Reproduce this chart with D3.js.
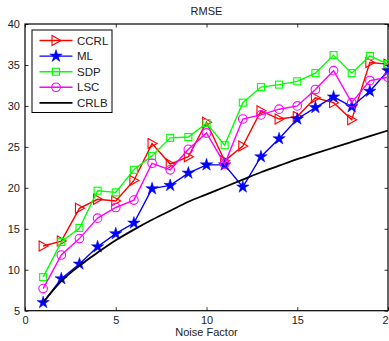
<!DOCTYPE html>
<html><head><meta charset="utf-8">
<script src="https://cdn.jsdelivr.net/npm/d3@7"></script>
<style>body{margin:0;background:#fff}svg{display:block;font-family:"Liberation Sans",Arial,sans-serif}</style>
</head><body>
<script>
const noise = [1,2,3,4,5,6,7,8,9,10,11,12,13,14,15,16,17,18,19,20];
const ccrl = [12.9,13.5,17.5,18.6,18.4,20.9,25.4,22.9,23.8,28.0,23.3,25.1,29.4,28.4,28.7,31.0,30.4,28.3,35.3,35.1];
const ml   = [6.0,8.9,10.7,12.8,14.4,15.7,19.9,20.3,21.8,22.8,22.8,20.1,23.8,26.0,28.4,29.8,31.1,29.9,31.8,34.3];
const sdp  = [9.1,13.4,15.1,19.65,19.45,22.2,23.9,26.1,26.2,27.9,25.2,30.4,32.3,32.6,33.0,34.0,36.2,34.0,36.1,35.1];
const lsc  = [7.7,11.8,13.8,16.3,17.6,18.5,23.0,22.2,24.7,26.7,22.9,28.4,28.9,29.6,30.0,32.0,34.3,30.4,33.1,33.5];
const crlb = [6.0,8.6,10.5,12.1,13.6,14.9,16.1,17.2,18.3,19.2,20.1,21.0,21.9,22.7,23.5,24.2,24.9,25.6,26.3,27.0];
const xTicks = [0,5,10,15,20];
const yTicks = [5,10,15,20,25,30,35,40];
const seriesNames = ["CCRL","ML","SDP","LSC","CRLB"];
const seriesColors = ["#ff0000","#0000ff","#00ff00","#ff00ff","#000000"];
const seriesMarkers = ["triangle","star","square","circle","none"];

const W = 389, H = 341;
const L = 25, R = 388, T = 24, B = 310.7;
const svg = d3.select("body").append("svg").attr("width", W).attr("height", H);
const x = d3.scaleLinear().domain([0,20]).range([L,R]);
const y = d3.scaleLinear().domain([5,40]).range([B,T]);

const seriesData = [ccrl, ml, sdp, lsc, crlb];

// axes
const fs = 11;
const gx = svg.append("g").attr("transform", `translate(0,${B})`)
  .call(d3.axisBottom(x).tickValues(xTicks).tickSize(-3.5).tickPadding(6));
const gy = svg.append("g").attr("transform", `translate(${L},0)`)
  .call(d3.axisLeft(y).tickValues(yTicks).tickSize(-3.5).tickPadding(5));
const gx2 = svg.append("g").attr("transform", `translate(0,${T})`)
  .call(d3.axisTop(x).tickValues(xTicks).tickSize(-3.5).tickFormat(""));
const gy2 = svg.append("g").attr("transform", `translate(${R},0)`)
  .call(d3.axisRight(y).tickValues(yTicks).tickSize(-3.5).tickFormat(""));
[gx,gy,gx2,gy2].forEach(g=>{
  g.select(".domain").remove();
  g.selectAll("line").attr("stroke","#000").attr("stroke-width",0.8);
  g.selectAll("text").attr("font-size",fs).attr("fill","#222").attr("font-family","Liberation Sans, Arial, sans-serif");
});
svg.append("rect").attr("x",L).attr("y",T).attr("width",R-L).attr("height",B-T)
  .attr("fill","none").attr("stroke","#000").attr("stroke-width",1.2);

// title and label
svg.append("text").attr("x",(L+R)/2).attr("y",15).attr("text-anchor","middle")
  .attr("font-size",fs).attr("fill","#222").text("RMSE");
svg.append("text").attr("x",(L+R)/2).attr("y",336).attr("text-anchor","middle")
  .attr("font-size",fs).attr("fill","#222").text("Noise Factor");

function drawMarker(g, type, color, cx, cy) {
  if (type === "triangle") {
    g.append("path").attr("d", `M${cx-4},${cy-5}L${cx+5},${cy}L${cx-4},${cy+5}Z`)
      .attr("fill","none").attr("stroke",color).attr("stroke-width",1.1);
  } else if (type === "star") {
    g.append("path").attr("d", d3.symbol().type(d3.symbolStar).size(48)())
      .attr("transform",`translate(${cx},${cy})`).attr("fill",color).attr("stroke",color).attr("stroke-width",0.5);
  } else if (type === "square") {
    g.append("rect").attr("x",cx-3.5).attr("y",cy-3.5).attr("width",7).attr("height",7)
      .attr("fill","none").attr("stroke",color).attr("stroke-width",1.1);
  } else if (type === "circle") {
    g.append("circle").attr("cx",cx).attr("cy",cy).attr("r",4.3)
      .attr("fill","none").attr("stroke",color).attr("stroke-width",1.1);
  }
}

const line = d3.line().x((d,i)=>x(noise[i])).y(d=>y(d));
const plot = svg.append("g");
seriesData.forEach((data, k) => {
  const g = plot.append("g");
  g.append("path").datum(data).attr("d", line.curve(k===4?d3.curveMonotoneX:d3.curveLinear))
    .attr("fill","none").attr("stroke",seriesColors[k]).attr("stroke-width",k===4?1.8:1.4);
  data.forEach((v,i)=>drawMarker(g, seriesMarkers[k], seriesColors[k], x(noise[i]), y(v)));
});

// legend
const lg = svg.append("g");
lg.append("rect").attr("x",32).attr("y",30).attr("width",80).attr("height",82.5)
  .attr("fill","#fff").attr("stroke","#000").attr("stroke-width",1);
seriesNames.forEach((n,k)=>{
  const yy = 40.5 + k*15.6;
  lg.append("line").attr("x1",39.5).attr("x2",72.5).attr("y1",yy).attr("y2",yy)
    .attr("stroke",seriesColors[k]).attr("stroke-width",k===4?1.8:1.4);
  drawMarker(lg, seriesMarkers[k], seriesColors[k], 56, yy);
  lg.append("text").attr("x",77).attr("y",yy+4).attr("font-size",11.5).attr("fill","#222").text(n);
});
</script>
</body></html>
